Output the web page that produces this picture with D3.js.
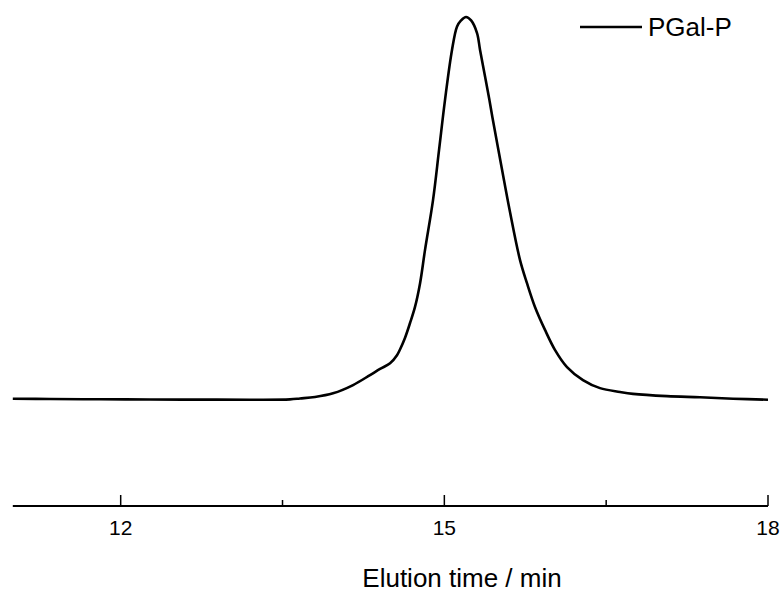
<!DOCTYPE html>
<html>
<head>
<meta charset="utf-8">
<script src="https://cdn.jsdelivr.net/npm/d3@7"></script>
<style>
  body { margin: 0; background: #fff; }
  svg { display: block; }
</style>
</head>
<body>
<div id="chart"></div>
<script>
// elution time (min) and detector signal (normalised, peak = 1)
const time = [11.00, 11.345, 11.808, 12.272, 12.735, 13.198, 13.569, 13.662, 13.801, 13.968,
  14.154, 14.311, 14.404, 14.497, 14.561, 14.589, 14.635, 14.682, 14.728, 14.775,
  14.821, 14.895, 14.951, 15.006, 15.071, 15.118, 15.155, 15.201, 15.248, 15.303,
  15.331, 15.383, 15.418, 15.445, 15.535, 15.605, 15.701, 15.766, 15.840,
  15.933, 16.025, 16.137, 16.285, 16.443, 16.628, 16.749, 17.064, 17.370, 17.676,
  18.00];
const signal = [0.0034, 0.0026, 0.0018, 0.0013, 0.0010, 0.0008, 0.0016, 0.0039, 0.0078, 0.0175,
  0.039, 0.065, 0.081, 0.096, 0.117, 0.132, 0.162, 0.201, 0.243, 0.305,
  0.392, 0.522, 0.653, 0.783, 0.914, 0.975, 0.991, 1.000, 0.991, 0.958,
  0.914, 0.836, 0.783, 0.739, 0.601, 0.496, 0.366, 0.305, 0.243,
  0.183, 0.131, 0.086, 0.052, 0.031, 0.021, 0.016, 0.010, 0.007, 0.0034,
  0.0008];
const majorTicks = [12, 15, 18];
const minorTicks = [13.5, 16.5];
const seriesName = "PGal-P";
const xTitle = "Elution time / min";

const width = 784, height = 593;
const font = "Arial, 'Liberation Sans', sans-serif";

const data = time.map((t, i) => ({t: t, v: signal[i]}));

const svg = d3.select("#chart").append("svg")
    .attr("width", width)
    .attr("height", height);

const x = d3.scaleLinear().domain([11, 18]).range([12.8, 768]);
const y = d3.scaleLinear().domain([0, 1]).range([400, 17]);
const axisY = 506;

// x axis, ticks pointing up
const gx = svg.append("g").attr("transform", `translate(0,${axisY})`);
gx.append("line")
    .attr("x1", x(11)).attr("x2", x(18))
    .attr("stroke", "#000").attr("stroke-width", 2);
gx.selectAll(".major").data(majorTicks).enter().append("line")
    .attr("x1", d => x(d)).attr("x2", d => x(d))
    .attr("y1", 0).attr("y2", -11)
    .attr("stroke", "#000").attr("stroke-width", 1.5);
gx.selectAll(".minor").data(minorTicks).enter().append("line")
    .attr("x1", d => x(d)).attr("x2", d => x(d))
    .attr("y1", 0).attr("y2", -6)
    .attr("stroke", "#000").attr("stroke-width", 1.5);
gx.selectAll("text").data(majorTicks).enter().append("text")
    .attr("x", d => x(d))
    .attr("y", 29)
    .attr("text-anchor", "middle")
    .style("font-family", font)
    .style("font-size", "21px")
    .text(d => d);

svg.append("text")
    .attr("x", 462)
    .attr("y", 587)
    .attr("text-anchor", "middle")
    .style("font-family", font)
    .style("font-size", "26px")
    .text(xTitle);

// the trace
svg.append("path")
    .datum(data)
    .attr("fill", "none")
    .attr("stroke", "#000")
    .attr("stroke-width", 2.6)
    .attr("stroke-linejoin", "round")
    .attr("d", d3.line().x(d => x(d.t)).y(d => y(d.v)).curve(d3.curveCatmullRom.alpha(0.5)));

// legend
const lg = svg.append("g").attr("transform", "translate(580,27)");
lg.append("line").attr("x1", 0).attr("x2", 62)
    .attr("stroke", "#000").attr("stroke-width", 2.6);
lg.append("text")
    .attr("x", 68).attr("y", 9)
    .style("font-family", font)
    .style("font-size", "26px")
    .text(seriesName);
</script>
</body>
</html>
